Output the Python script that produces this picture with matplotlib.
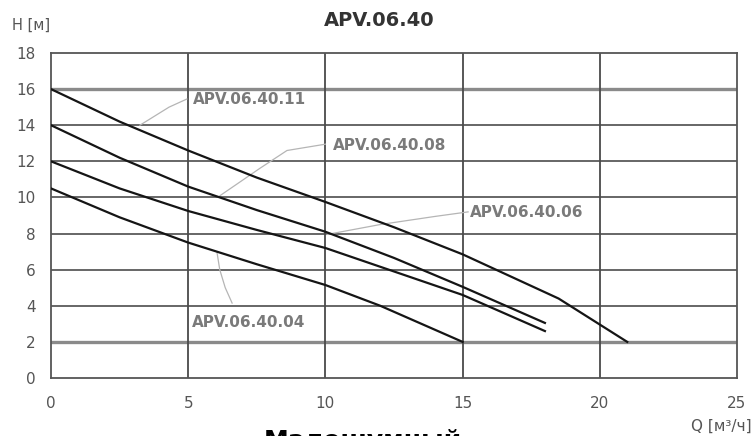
import matplotlib
matplotlib.use("Agg")
import matplotlib.pyplot as plt
import numpy as np

# pump curves (Q in m3/h, H in m)
q_11 = [0, 2.5, 5, 7.5, 10, 12.5, 15, 18.5, 21]
h_11 = [16, 14.2, 12.6, 11.1, 9.75, 8.35, 6.85, 4.4, 2.0]

q_08 = [0, 2.5, 5, 7.5, 10, 12.5, 15, 18]
h_08 = [14, 12.2, 10.6, 9.3, 8.1, 6.65, 5.05, 3.05]

q_06 = [0, 2.5, 5, 7.5, 10, 12.5, 15, 18]
h_06 = [12, 10.5, 9.25, 8.2, 7.2, 5.9, 4.6, 2.6]

q_04 = [0, 2.5, 5, 7.5, 10, 12, 15]
h_04 = [10.5, 8.9, 7.5, 6.3, 5.15, 4.0, 2.0]

names = ["APV.06.40.11", "APV.06.40.08", "APV.06.40.06", "APV.06.40.04"]
label_pos = [(5.17, 15.4), (10.28, 12.9), (15.27, 9.14), (5.14, 3.1)]
# leader lines from curve to label
leaders = [
    ([3.24, 4.3, 4.95], [14.0, 15.0, 15.45]),
    ([6.16, 7.6, 8.6, 10.0], [10.1, 11.6, 12.6, 12.95]),
    ([10.06, 12.0, 14.0, 15.2], [7.95, 8.5, 8.95, 9.2]),
    ([6.05, 6.15, 6.35, 6.6], [6.95, 6.0, 5.0, 4.15]),
]

xticks = [0, 5, 10, 15, 20, 25]
yticks = [0, 2, 4, 6, 8, 10, 12, 14, 16, 18]

fig = plt.figure(figsize=(7.55, 4.36), dpi=100)
ax = fig.add_axes([51/755, 1 - 378/436, 686/755, 325/436])

ax.set_xlim(0, 25)
ax.set_ylim(0, 18)

# grid
for y in yticks[1:-1]:
    if y in (2, 16):
        ax.axhline(y, color="#8a8a8a", lw=2.4, zorder=1)
    else:
        ax.axhline(y, color="#5a5a5a", lw=1.3, zorder=1)
for x in xticks[1:-1]:
    ax.axvline(x, color="#4a4a4a", lw=1.3, zorder=1)

for s in ax.spines.values():
    s.set_color("#555555")
    s.set_linewidth(1.3)

# curves
for q, h in [(q_11, h_11), (q_08, h_08), (q_06, h_06), (q_04, h_04)]:
    ax.plot(q, h, color="#151515", lw=1.6, zorder=3)

for name, (lx, ly), (qx, hy) in zip(names, label_pos, leaders):
    ax.plot(qx, hy, color="#b5b5b5", lw=0.9, zorder=2)
    ax.text(lx, ly, name, ha="left", va="center", fontsize=11,
            fontweight="bold", color="#7a7a7a", zorder=4)

ax.set_xticks(xticks)
ax.set_yticks(yticks)
ax.tick_params(length=0, labelsize=11, labelcolor="#555555", pad=11)
ax.tick_params(axis="x", pad=13)

fig.text(379/755, 1 - 20/436, "APV.06.40", ha="center", va="center",
         fontsize=14, fontweight="bold", color="#333333")
fig.text(12/755, 1 - 25/436, "H [м]", ha="left", va="center",
         fontsize=10.5, color="#555555")
fig.text(752/755, 1 - 426/436, "Q [м³/ч]", ha="right", va="center",
         fontsize=11, color="#555555")
fig.text(363/755, 1 - 429/436, "Малошумный", ha="center", va="top",
         fontsize=18, fontweight="bold", color="black")

fig.savefig("out.png", dpi=100)
